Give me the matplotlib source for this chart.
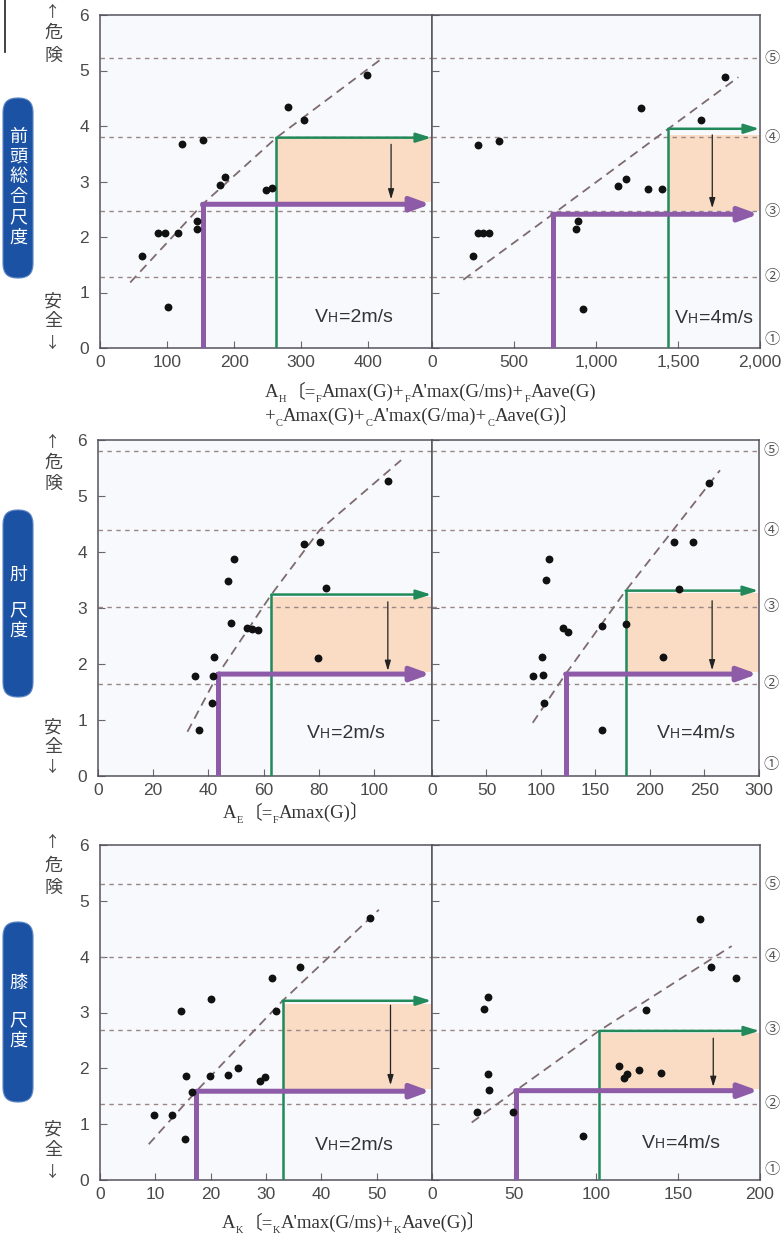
import matplotlib
matplotlib.use('Agg')
import matplotlib.pyplot as plt
from matplotlib.patches import FancyBboxPatch, Rectangle

# ---------------- data ----------------
p1L_x = [62, 86, 97, 116, 101, 122, 154, 144, 144, 179, 186, 247, 256, 281, 304, 398]
p1L_y = [1.66, 2.08, 2.07, 2.08, 0.74, 3.67, 3.75, 2.29, 2.14, 2.94, 3.08, 2.85, 2.89, 4.34, 4.10, 4.91]
p1R_x = [252, 279, 409, 279, 313, 350, 878, 892, 923, 1132, 1181, 1272, 1315, 1400, 1638, 1787]
p1R_y = [1.66, 3.65, 3.73, 2.07, 2.07, 2.07, 2.14, 2.29, 0.70, 2.91, 3.05, 4.32, 2.86, 2.86, 4.10, 4.88]
p1_levels = [5.22, 3.80, 2.46, 1.28]
p1L_trend_x = [45, 153, 263, 423]
p1L_trend_y = [1.18, 2.59, 3.79, 5.24]
p1R_trend_x = [191, 736, 1441, 1868]
p1R_trend_y = [1.23, 2.41, 3.95, 4.88]
p1L_purple = (153, 2.59)
p1L_green = (263, 3.79)
p1R_purple = (736, 2.41)
p1R_green = (1441, 3.95)
p1L_shade = (263, 2.63, 3.79)
p1R_shade = (1441, 2.47, 3.84)
p1L_down = (434, 3.67, 2.68)
p1R_down = (1709, 3.84, 2.52)
p1L_xticks = [0, 100, 200, 300, 400]
p1R_xticks = [0, 500, 1000, 1500, 2000]
p1R_xticklabels = ['0', '500', '1,000', '1,500', '2,000']

p2L_x = [35.1, 36.6, 41.5, 42.0, 41.3, 47.1, 49.1, 48.2, 53.8, 55.8, 58.1, 74.6, 80.3, 82.5, 79.7, 105.2]
p2L_y = [1.79, 0.83, 1.79, 2.12, 1.30, 3.48, 3.87, 2.73, 2.65, 2.63, 2.60, 4.15, 4.17, 3.35, 2.10, 5.26]
p2R_x = [92.4, 101.5, 101.2, 102.8, 104.9, 107.3, 120.5, 125.1, 155.7, 156.3, 178.0, 212.2, 222, 239.1, 226.3, 254.4]
p2R_y = [1.79, 1.80, 2.13, 1.31, 3.50, 3.87, 2.65, 2.58, 2.67, 0.83, 2.72, 2.13, 4.17, 4.17, 3.34, 5.24]
p2_levels = [5.81, 4.39, 3.02, 1.65]
p2L_trend_x = [32.4, 43.5, 62.8, 80.3, 109.8]
p2L_trend_y = [0.79, 1.82, 3.24, 4.39, 5.64]
p2R_trend_x = [92.4, 122.6, 177.7, 264.2]
p2R_trend_y = [0.95, 1.82, 3.31, 5.46]
p2L_purple = (43.5, 1.82)
p2L_green = (62.8, 3.24)
p2R_purple = (122.6, 1.82)
p2R_green = (177.7, 3.31)
p2L_shade = (62.8, 1.86, 3.20)
p2R_shade = (177.7, 1.86, 3.27)
p2L_down = (105, 3.11, 1.88)
p2R_down = (257, 3.13, 1.89)
p2L_xticks = [0, 20, 40, 60, 80, 100]
p2R_xticks = [0, 50, 100, 150, 200, 250, 300]

p3L_x = [9.8, 13.1, 15.4, 14.6, 15.6, 16.7, 19.9, 20.0, 23.2, 25.0, 28.9, 29.8, 31.1, 31.8, 36.1, 48.8]
p3L_y = [1.16, 1.16, 0.73, 3.03, 1.87, 1.58, 1.87, 3.24, 1.88, 2.00, 1.77, 1.84, 3.61, 3.02, 3.81, 4.69]
p3R_x = [27.6, 31.7, 34.3, 34.3, 34.9, 49.6, 91.9, 113.8, 117.3, 118.9, 126.2, 130.5, 139.4, 163.4, 169.9, 185.4]
p3R_y = [1.21, 3.06, 3.27, 1.90, 1.62, 1.22, 0.78, 2.05, 1.82, 1.90, 1.97, 3.04, 1.92, 4.68, 3.82, 3.61]
p3_levels = [5.30, 4.00, 2.69, 1.37]
p3L_trend_x = [8.8, 17.4, 33.0, 50.4]
p3L_trend_y = [0.64, 1.59, 3.21, 4.84]
p3R_trend_x = [24.2, 51.0, 101.8, 182.7]
p3R_trend_y = [1.03, 1.60, 2.67, 4.19]
p3L_purple = (17.4, 1.59)
p3L_green = (33.0, 3.21)
p3R_purple = (51.0, 1.60)
p3R_green = (101.8, 2.67)
p3L_shade = (33.0, 1.63, 3.16)
p3R_shade = (101.8, 1.63, 2.63)
p3L_down = (52.5, 3.13, 1.70)
p3R_down = (171.5, 2.54, 1.67)
p3L_xticks = [0, 10, 20, 30, 40, 50]
p3R_xticks = [0, 50, 100, 150, 200]

circle_labels = ['⑤', '④', '③', '②', '①']
yticks = [0, 1, 2, 3, 4, 5, 6]

# ---------------- style ----------------
W, H = 782, 1234
FACE = '#f8f9fc'
SPINE = '#56525e'
TICKC = '#6a6670'
LABC = '#4a4a4a'
LEVC = '#9a8686'
TRC = '#7d6b6e'
PURPLE = '#8d5ba7'
GREEN = '#22895a'
SHADE = '#f9dcc3'
BLUE = '#1c52a3'
TICKFONT = ['Liberation Sans Narrow', 'Liberation Sans', 'DejaVu Sans']
SERIF = ['Liberation Serif', 'Noto Sans CJK JP']
CJK = ['Noto Sans CJK JP', 'DejaVu Sans']

fig = plt.figure(figsize=(W / 100, H / 100), dpi=100)
fig.patch.set_facecolor('white')


def rect(x0, x1, y0, y1):
    return [x0 / W, 1 - y1 / H, (x1 - x0) / W, (y1 - y0) / H]


def setup(ax, xmax, xticks, xticklabels, ylabels):
    ax.set_xlim(0, xmax)
    ax.set_ylim(0, 6)
    ax.set_facecolor(FACE)
    for s in ax.spines.values():
        s.set_color(SPINE)
        s.set_linewidth(1.1)
    ax.set_xticks(xticks)
    ax.set_xticklabels(xticklabels if xticklabels else [str(t) for t in xticks])
    ax.set_yticks(yticks)
    ax.set_yticklabels([str(t) for t in yticks] if ylabels else [])
    ax.tick_params(direction='in', length=5, width=0.8, color=TICKC,
                   labelcolor=LABC, labelsize=12.5)
    ax.tick_params(axis='x', pad=5)
    ax.tick_params(axis='y', pad=8)
    for lab in ax.get_xticklabels() + ax.get_yticklabels():
        lab.set_family(TICKFONT)


def draw(ax, xs, ys, levels, tx, ty, purple, green, shade, down):
    xmax = ax.get_xlim()[1]
    sx, sy0, sy1 = shade
    ax.add_patch(Rectangle((sx, sy0), xmax - sx, sy1 - sy0, facecolor=SHADE,
                           edgecolor='none', zorder=1))
    for lv in levels:
        ax.axhline(lv, color=LEVC, lw=1.0, ls=(0, (3.2, 3.2)), zorder=2)
    ax.plot(tx, ty, color=TRC, lw=1.3, ls=(0, (5, 3.2)), zorder=2)
    gx, gy = green
    ax.plot([gx, gx], [0, gy], color=GREEN, lw=1.8, solid_capstyle='projecting', zorder=3)
    ax.annotate('', xy=(0.998, gy), xycoords=('axes fraction', 'data'),
                xytext=(gx, gy), textcoords='data',
                arrowprops=dict(arrowstyle='-|>,head_length=0.9,head_width=0.28',
                                color=GREEN, lw=1.8, shrinkA=0, shrinkB=0,
                                mutation_scale=10), zorder=3)
    px, py = purple
    ax.plot([px, px], [0, py], color=PURPLE, lw=3.6, solid_capstyle='projecting', zorder=3.5)
    ax.annotate('', xy=(0.995, py), xycoords=('axes fraction', 'data'),
                xytext=(px, py), textcoords='data',
                arrowprops=dict(arrowstyle='-|>,head_length=1.15,head_width=0.42',
                                color=PURPLE, lw=3.6, shrinkA=0, shrinkB=0,
                                mutation_scale=10), zorder=3.5)
    dx, dy0, dy1 = down
    ax.annotate('', xy=(dx, dy1), xytext=(dx, dy0), xycoords='data',
                arrowprops=dict(arrowstyle='-|>,head_length=0.6,head_width=0.18',
                                color='#222222', lw=0.9, shrinkA=0, shrinkB=0,
                                mutation_scale=10), zorder=3)
    ax.scatter(xs, ys, s=32, color='#111111', linewidths=0, zorder=5)


panels = [
    dict(rects=(rect(100, 432, 15, 348), rect(432, 760, 15, 348)),
         xmax=(495, 2000), ticks=(p1L_xticks, p1R_xticks), tlabels=(None, p1R_xticklabels),
         L=(p1L_x, p1L_y, p1_levels, p1L_trend_x, p1L_trend_y, p1L_purple, p1L_green, p1L_shade, p1L_down),
         R=(p1R_x, p1R_y, p1_levels, p1R_trend_x, p1R_trend_y, p1R_purple, p1R_green, p1R_shade, p1R_down),
         circ_y=p1_levels + [0.15]),
    dict(rects=(rect(98, 432, 440, 776), rect(432, 759, 440, 776)),
         xmax=(121, 300), ticks=(p2L_xticks, p2R_xticks), tlabels=(None, None),
         L=(p2L_x, p2L_y, p2_levels, p2L_trend_x, p2L_trend_y, p2L_purple, p2L_green, p2L_shade, p2L_down),
         R=(p2R_x, p2R_y, p2_levels, p2R_trend_x, p2R_trend_y, p2R_purple, p2R_green, p2R_shade, p2R_down),
         circ_y=p2_levels + [0.2]),
    dict(rects=(rect(100, 432, 845, 1180), rect(432, 760, 845, 1180)),
         xmax=(60, 200), ticks=(p3L_xticks, p3R_xticks), tlabels=(None, None),
         L=(p3L_x, p3L_y, p3_levels, p3L_trend_x, p3L_trend_y, p3L_purple, p3L_green, p3L_shade, p3L_down),
         R=(p3R_x, p3R_y, p3_levels, p3R_trend_x, p3R_trend_y, p3R_purple, p3R_green, p3R_shade, p3R_down),
         circ_y=p3_levels + [0.18]),
]

for P in panels:
    axL = fig.add_axes(P['rects'][0])
    axR = fig.add_axes(P['rects'][1])
    setup(axL, P['xmax'][0], P['ticks'][0], P['tlabels'][0], True)
    setup(axR, P['xmax'][1], P['ticks'][1], P['tlabels'][1], False)
    draw(axL, *P['L'])
    draw(axR, *P['R'])
    for lab, cy in zip(circle_labels, P['circ_y']):
        axR.text(1.0 + 12 / 328, cy, lab, transform=axR.get_yaxis_transform(),
                 ha='center', va='center', fontsize=11, color='#555555',
                 family=CJK, clip_on=False)

# ---------------- overlay in pixel coordinates ----------------
bg = fig.add_axes([0, 0, 1, 1], zorder=10)
bg.set_xlim(0, W)
bg.set_ylim(H, 0)
bg.axis('off')
bg.patch.set_alpha(0)


def chain(x, y, pieces, size, sub_size, sub_dy, family, color):
    first = bg.text(x, y, pieces[0][0], fontsize=size, family=family, color=color,
                    ha='left', va='baseline')
    main = first
    prev = first
    for s, sub in pieces[1:]:
        if sub:
            t = bg.annotate(s, xy=(1, 0), xycoords=(prev, main), xytext=(0.2, sub_dy),
                            textcoords='offset points', fontsize=sub_size, family=family,
                            color=color, ha='left', va='bottom')
        else:
            t = bg.annotate(s, xy=(1, 0), xycoords=(prev, main), xytext=(0.2, 0),
                            textcoords='offset points', fontsize=size, family=family,
                            color=color, ha='left', va='bottom')
            main = t
        prev = t
    return first


# x-axis formulas
FS, SS = 13.5, 7.5
chain(265, 397, [('A', 0), ('H', 1), ('〔=', 0), ('F', 1), ('Amax(G)+', 0), ('F', 1),
                 ("A'max(G/ms)+", 0), ('F', 1), ('Aave(G)', 0)],
      FS, SS, -2.5, SERIF, '#333333')
chain(265, 421, [('+', 0), ('C', 1), ('Amax(G)+', 0), ('C', 1), ("A'max(G/ma)+", 0),
                 ('C', 1), ('Aave(G)〕', 0)],
      FS, SS, -2.5, SERIF, '#333333')
chain(223, 818, [('A', 0), ('E', 1), ('〔=', 0), ('F', 1), ('Amax(G)〕', 0)],
      FS, SS, -2.5, SERIF, '#333333')
chain(222, 1228, [('A', 0), ('K', 1), ('〔=', 0), ('K', 1), ("A'max(G/ms)+", 0),
                  ('K', 1), ('Aave(G)〕', 0)],
      FS, SS, -2.5, SERIF, '#333333')

# V_H labels
for (x, y, txt) in [(315, 322, '=2m/s'), (675, 323, '=4m/s'),
                    (307, 738, '=2m/s'), (657, 738, '=4m/s'),
                    (315, 1150, '=2m/s'), (642, 1148, '=4m/s')]:
    chain(x, y, [('V', 0), ('H', 1), (txt, 0)], 14, 10, 0.5,
          ['Liberation Sans', 'DejaVu Sans'], '#333333')

# danger / safe labels
for (yu, yd) in [((12, 33, 56), (302, 321, 343)),
                 ((442, 463, 484), (728, 747, 767)),
                 ((843, 866, 888), (1130, 1150, 1172))]:
    bg.text(53, yu[0], '↑', ha='center', va='center', fontsize=11, color='#444444', family=CJK)
    bg.text(53, yu[1], '危', ha='center', va='center', fontsize=13, color='#444444', family=CJK)
    bg.text(53, yu[2], '険', ha='center', va='center', fontsize=13, color='#444444', family=CJK)
    bg.text(53, yd[0], '安', ha='center', va='center', fontsize=13, color='#444444', family=CJK)
    bg.text(53, yd[1], '全', ha='center', va='center', fontsize=13, color='#444444', family=CJK)
    bg.text(53, yd[2], '↓', ha='center', va='center', fontsize=11, color='#444444', family=CJK)

# blue title boxes
boxes = [((98, 278), [('前', 137), ('頭', 157), ('総', 177), ('合', 197), ('尺', 217), ('度', 238)]),
         ((510, 697), [('肘', 575), ('尺', 610), ('度', 631)]),
         ((922, 1102), [('膝', 983), ('尺', 1020), ('度', 1041)])]
for (y0, y1), chars in boxes:
    bg.add_patch(FancyBboxPatch((3, y0), 30, y1 - y0,
                                boxstyle='round,pad=0,rounding_size=14',
                                facecolor=BLUE, edgecolor='#5d86c4', lw=0.8))
    for ch, cy in chars:
        bg.text(18, cy, ch, ha='center', va='center', fontsize=13, color='white', family=CJK)

# small vertical rule at top-left
bg.plot([5, 5], [0, 52], color='#333333', lw=1.3)

fig.savefig('out.png', dpi=100, facecolor='white')
